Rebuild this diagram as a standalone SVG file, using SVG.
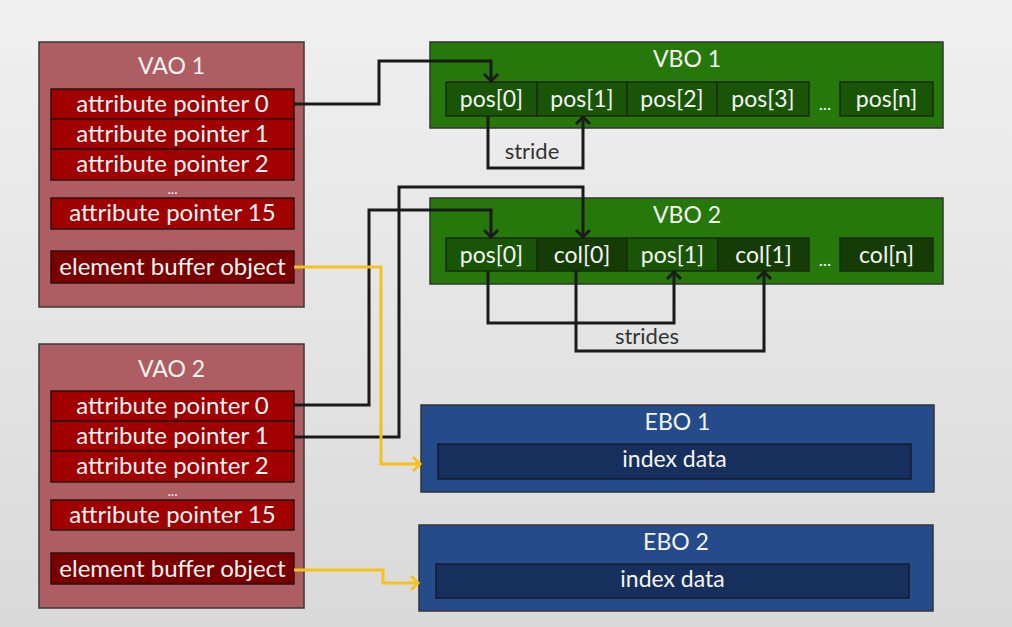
<svg xmlns="http://www.w3.org/2000/svg" width="1012" height="627" viewBox="0 0 1012 627">
<defs>
<linearGradient id="bg" x1="0" y1="0" x2="0" y2="1">
<stop offset="0" stop-color="#f0f0f0"/>
<stop offset="1" stop-color="#d9d9d9"/>
</linearGradient>
<marker id="ah" viewBox="-10 -10 20 20" markerWidth="20" markerHeight="20" refX="0" refY="0" orient="auto" markerUnits="userSpaceOnUse">
<path d="M-8,-7 L-1,0 L-8,7" fill="none" stroke="#1a1a1a" stroke-width="3"/>
</marker>
<marker id="ahy" viewBox="-10 -10 20 20" markerWidth="20" markerHeight="20" refX="0" refY="0" orient="auto" markerUnits="userSpaceOnUse">
<path d="M-8,-7 L-1,0 L-8,7" fill="none" stroke="#f5c21b" stroke-width="3"/>
</marker>
</defs>
<style>
text{font-family:Lato,"Liberation Sans",sans-serif;font-size:23px;fill:#f4f4f4;text-anchor:middle}
.row{font-size:24px}
.dots{font-size:14px}
.vao{fill:#ae5d62;stroke:#3a3a3a;stroke-width:1.5}
.ap{fill:#a00000;stroke:#2a1010;stroke-width:1.5}
.eb{fill:#7a0000;stroke:#2a1010;stroke-width:1.5}
.vbo{fill:#26780a;stroke:#333;stroke-width:1.5}
.pc{fill:#1a5407;stroke:#1a2a10;stroke-width:1.5}
.cc{fill:#153c06;stroke:#1a2a10;stroke-width:1.5}
.ebo{fill:#254b8b;stroke:#333;stroke-width:1.5}
.idx{fill:#172f5c;stroke:#1a1a2a;stroke-width:1.5}
.lbl{fill:#333333;font-size:22px}
.bk{fill:none;stroke:#1a1a1a;stroke-width:3;marker-end:url(#ah)}
.yl{fill:none;stroke:#f5c21b;stroke-width:3;marker-end:url(#ahy)}
</style>
<rect x="0" y="0" width="1012" height="627" fill="url(#bg)"/>

<g id="vao1">
<rect class="vao" x="39" y="42" width="265" height="265"/>
<text x="171.5" y="74">VAO 1</text>
<rect class="ap" x="51" y="89" width="243" height="30"/>
<text class="row" x="172.5" y="112">attribute pointer 0</text>
<rect class="ap" x="51" y="119" width="243" height="30"/>
<text class="row" x="172.5" y="142">attribute pointer 1</text>
<rect class="ap" x="51" y="149" width="243" height="31"/>
<text class="row" x="172.5" y="172">attribute pointer 2</text>
<text class="dots" x="172.5" y="194">...</text>
<rect class="ap" x="51" y="198" width="243" height="31"/>
<text class="row" x="172.5" y="221">attribute pointer 15</text>
<rect class="eb" x="51" y="251" width="243" height="32"/>
<text class="row" x="172.5" y="275">element buffer object</text>
</g>

<g id="vao2">
<rect class="vao" x="39" y="344" width="265" height="264"/>
<text x="171.5" y="377">VAO 2</text>
<rect class="ap" x="51" y="391" width="243" height="30"/>
<text class="row" x="172.5" y="414">attribute pointer 0</text>
<rect class="ap" x="51" y="421" width="243" height="30"/>
<text class="row" x="172.5" y="444">attribute pointer 1</text>
<rect class="ap" x="51" y="451" width="243" height="31"/>
<text class="row" x="172.5" y="474">attribute pointer 2</text>
<text class="dots" x="172.5" y="496">...</text>
<rect class="ap" x="51" y="500" width="243" height="30"/>
<text class="row" x="172.5" y="523">attribute pointer 15</text>
<rect class="eb" x="51" y="553" width="243" height="31"/>
<text class="row" x="172.5" y="577">element buffer object</text>
</g>

<g id="vbo1">
<rect class="vbo" x="430" y="42" width="513" height="86"/>
<text x="687" y="67">VBO 1</text>
<rect class="pc" x="446" y="82" width="91" height="34"/>
<text x="491.5" y="107">pos[0]</text>
<rect class="pc" x="537" y="82" width="90" height="34"/>
<text x="582" y="107">pos[1]</text>
<rect class="pc" x="627" y="82" width="90" height="34"/>
<text x="672" y="107">pos[2]</text>
<rect class="pc" x="717" y="82" width="92" height="34"/>
<text x="763" y="107">pos[3]</text>
<text x="825" y="110" style="font-size:18px">...</text>
<rect class="pc" x="840" y="82" width="93" height="34"/>
<text x="886.5" y="107">pos[n]</text>
</g>

<g id="vbo2">
<rect class="vbo" x="430" y="198" width="513" height="86"/>
<text x="687" y="223">VBO 2</text>
<rect class="pc" x="446" y="238" width="91" height="33"/>
<text x="491.5" y="263">pos[0]</text>
<rect class="cc" x="537" y="238" width="90" height="33"/>
<text x="582" y="263">col[0]</text>
<rect class="pc" x="627" y="238" width="91" height="33"/>
<text x="672.5" y="263">pos[1]</text>
<rect class="cc" x="718" y="238" width="91" height="33"/>
<text x="763.5" y="263">col[1]</text>
<text x="825" y="266" style="font-size:18px">...</text>
<rect class="cc" x="840" y="238" width="93" height="33"/>
<text x="886.5" y="263">col[n]</text>
</g>

<g id="ebo1">
<rect class="ebo" x="421" y="405" width="513" height="87"/>
<text x="677.5" y="430">EBO 1</text>
<rect class="idx" x="438" y="444" width="473" height="35"/>
<text x="674.5" y="467">index data</text>
</g>

<g id="ebo2">
<rect class="ebo" x="419" y="525" width="514" height="86"/>
<text x="676" y="550">EBO 2</text>
<rect class="idx" x="436" y="564" width="473" height="34"/>
<text x="672.5" y="587">index data</text>
</g>

<g id="connectors">
<path class="bk" d="M294,104 H379 V61 H491 V82"/>
<path class="bk" d="M488,116 V168 H583 V116"/>
<path class="bk" d="M294,405 H369 V210 H491 V238"/>
<path class="bk" d="M294,437 H399 V187 H583 V238"/>
<path class="bk" d="M488,271 V323 H674 V271"/>
<path class="bk" d="M576,271 V351 H764 V271"/>
<path class="yl" d="M294,267 H381 V464 H421"/>
<path class="yl" d="M294,570 H383 V583 H419"/>
<text class="lbl" x="532" y="159">stride</text>
<text class="lbl" x="647" y="344">strides</text>
</g>
</svg>
